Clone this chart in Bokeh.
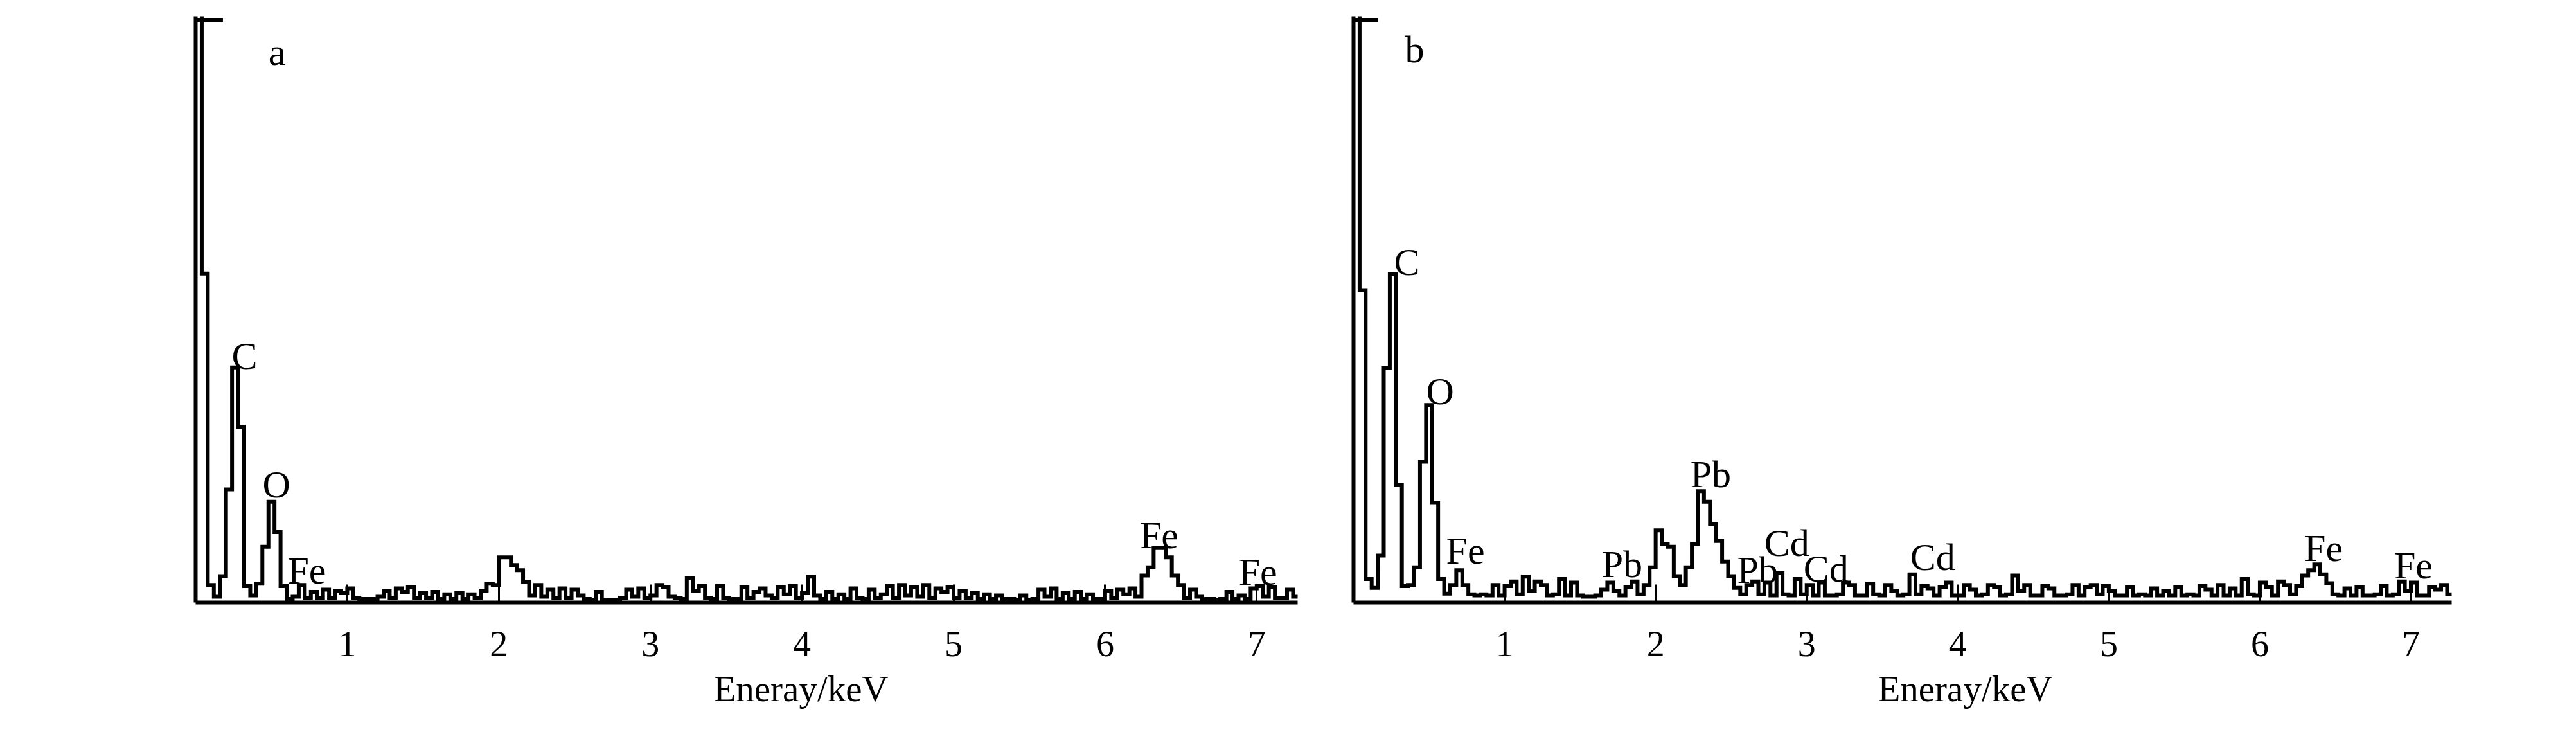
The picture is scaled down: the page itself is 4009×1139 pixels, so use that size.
from bokeh.plotting import figure
from bokeh.layouts import row
from bokeh.models import Range1d, FixedTicker, Title
from bokeh.core.properties import value
from bokeh.embed import file_html
from bokeh.resources import INLINE

# ---------------- data ----------------
bin_width_kev = 0.04
x_max_kev = 7.27
y_max = 1000                  # counts (relative) at the top of the frame
tick_values = [1, 2, 3, 4, 5, 6, 7]
x_axis_title = "Eneray/keV"

# panel a: counts per 0.04 keV channel (first channel is off-scale)
counts_a = [
    1100, 561, 30, 10, 45, 193, 401, 300, 28, 12,
    32, 95, 172, 120, 28, 6, 10, 30, 8, 18,
    8, 22, 8, 20, 16, 24, 8, 6, 6, 6,
    10, 20, 8, 24, 18, 26, 8, 16, 8, 18,
    6, 14, 6, 16, 6, 14, 8, 20, 32, 30,
    77, 77, 64, 55, 35, 12, 30, 10, 22, 8,
    24, 8, 22, 12, 6, 5, 18, 5, 5, 5,
    8, 22, 10, 24, 8, 12, 30, 26, 10, 8,
    6, 42, 20, 28, 8, 6, 28, 8, 6, 6,
    26, 8, 18, 24, 12, 8, 26, 14, 28, 8,
    16, 44, 12, 6, 18, 6, 14, 6, 24, 8,
    6, 22, 8, 14, 28, 8, 30, 12, 26, 10,
    30, 8, 24, 18, 26, 8, 20, 8, 16, 6,
    14, 6, 12, 6, 6, 4, 12, 5, 6, 22,
    10, 24, 6, 16, 6, 18, 6, 14, 6, 6,
    20, 8, 22, 14, 24, 10, 46, 60, 93, 93,
    77, 46, 30, 8, 22, 10, 6, 6, 5, 6,
    18, 6, 12, 6, 24, 28, 10, 26, 8, 8,
    22, 10,
]

# panel b: counts per 0.04 keV channel (first channel is off-scale)
counts_b = [
    1100, 533, 40, 25, 80, 400, 560, 200, 28, 30,
    60, 240, 337, 170, 40, 15, 30, 55, 30, 14,
    12, 14, 12, 30, 12, 28, 36, 14, 44, 20,
    36, 30, 12, 14, 40, 12, 34, 12, 10, 10,
    12, 22, 34, 20, 12, 26, 36, 14, 30, 60,
    123, 100, 95, 45, 30, 60, 100, 190, 172, 134,
    105, 70, 45, 25, 14, 30, 36, 14, 34, 12,
    50, 14, 12, 40, 14, 30, 12, 34, 12, 12,
    14, 34, 30, 12, 12, 32, 14, 12, 30, 20,
    12, 14, 48, 14, 28, 24, 12, 26, 34, 12,
    12, 30, 22, 12, 14, 30, 26, 12, 14, 46,
    20, 30, 12, 12, 28, 24, 12, 12, 14, 30,
    12, 26, 30, 14, 28, 20, 12, 12, 26, 12,
    14, 12, 24, 12, 20, 12, 26, 12, 14, 12,
    28, 22, 12, 30, 12, 24, 12, 40, 14, 12,
    34, 26, 12, 36, 30, 14, 28, 46, 55, 65,
    48, 33, 14, 12, 24, 12, 26, 12, 12, 14,
    28, 12, 14, 36, 20, 34, 12, 12, 26, 22,
    30, 14,
]

# short piece of the clipped first peak along the top of each frame (keV)
top_stub_end = [0.18, 0.16]

# peak / panel labels: text, left x (keV), baseline y (counts)
labels_a_text = ["a", "C", "O", "Fe", "Fe", "Fe"]
labels_a_x = [0.48, 0.237, 0.441, 0.606, 6.229, 6.881]
labels_a_y = [939, 421, 201, 54, 115, 52]

labels_b_text = ["b", "C", "O", "Fe", "Pb", "Pb", "Pb", "Cd", "Cd", "Cd", "Fe", "Fe"]
labels_b_x = [0.34, 0.268, 0.481, 0.613, 1.643, 2.23, 2.54, 2.719, 2.979, 3.685, 6.294, 6.889]
labels_b_y = [944, 581, 360, 88, 65, 219, 55, 101, 58, 77, 93, 63]

# axis title left edge, in pixels from the frame's left edge
axis_title_offset = [806, 816]

# ---------------- drawing ----------------
FONT = "Liberation Serif"


def make_panel(counts, lab_text, lab_x, lab_y, stub_end, title_off, width, bl, br):
    p = figure(width=width, height=1125, output_backend="svg", toolbar_location=None,
               x_range=Range1d(0, x_max_kev), y_range=Range1d(0, y_max),
               min_border_left=bl, min_border_right=br,
               min_border_top=25, min_border_bottom=188)
    p.outline_line_color = None
    p.xgrid.visible = False
    p.ygrid.visible = False
    p.background_fill_color = "white"
    p.border_fill_color = "white"

    # bottom axis
    xa = p.xaxis[0]
    xa.ticker = FixedTicker(ticks=tick_values)
    xa.axis_line_width = 6
    xa.axis_line_color = "black"
    xa.major_tick_in = 28
    xa.major_tick_out = 0
    xa.major_tick_line_width = 3
    xa.minor_tick_line_color = None
    xa.major_label_standoff = 45
    xa.major_label_text_font = FONT
    xa.major_label_text_font_size = "56px"
    xa.major_label_text_color = "black"

    # left axis: line only
    ya = p.yaxis[0]
    ya.ticker = FixedTicker(ticks=[])
    ya.axis_line_width = 6
    ya.axis_line_color = "black"
    ya.major_tick_line_color = None
    ya.minor_tick_line_color = None
    ya.major_label_text_font_size = "0px"

    # spectrum as stepped histogram
    edges = [i * bin_width_kev for i in range(len(counts) + 1)]
    ys = list(counts) + [counts[-1]]
    p.step(edges, ys, mode="after", line_color="black", line_width=6,
           line_join="miter")

    # clipped top of the first peak
    p.line([0, stub_end], [y_max - 6, y_max - 6], line_color="black", line_width=6)

    p.text(x=lab_x, y=lab_y, text=lab_text, text_font=value(FONT),
           text_font_size="60px", text_align="left", text_baseline="alphabetic",
           text_color="black")

    p.add_layout(Title(text=x_axis_title, align="left", offset=title_off,
                       text_font=FONT, text_font_size="57px",
                       text_font_style="normal", text_color="black",
                       standoff=28), "below")
    return p


pa = make_panel(counts_a, labels_a_text, labels_a_x, labels_a_y, top_stub_end[0],
                axis_title_offset[0], 2059, 304, 40)
pb = make_panel(counts_b, labels_b_text, labels_b_x, labels_b_y, top_stub_end[1],
                axis_title_offset[1], 1906, 47, 150)

layout = row(pa, pb)
open("out.html", "w").write(file_html(layout, INLINE))
